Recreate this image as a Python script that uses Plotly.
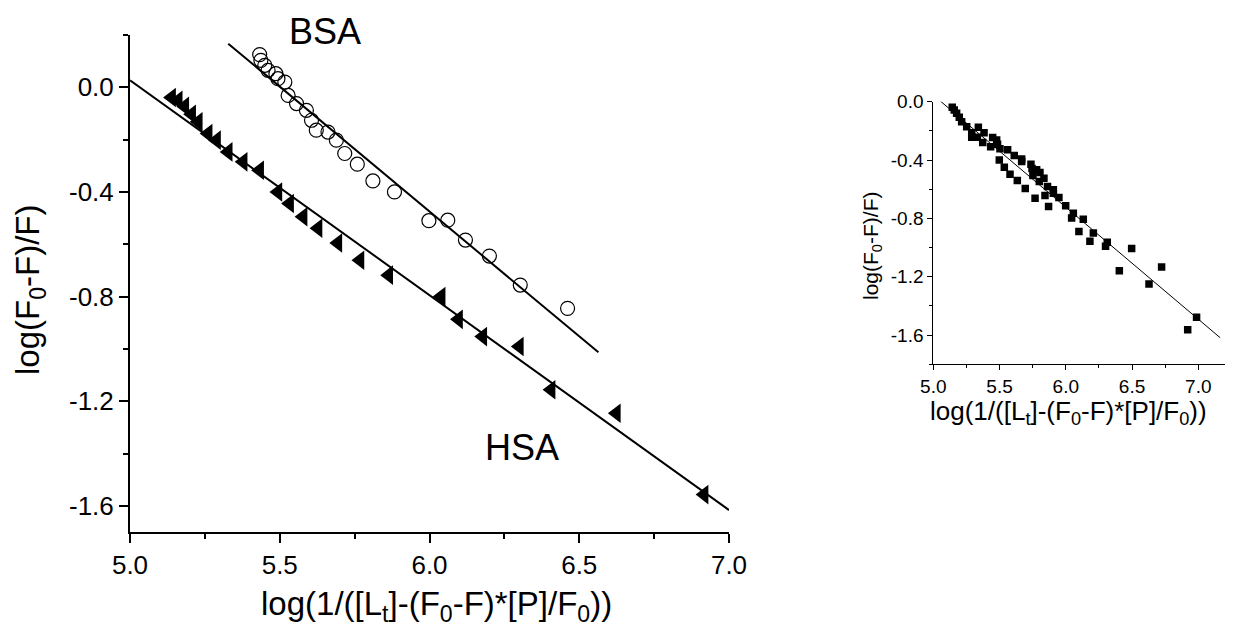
import plotly.graph_objects as go

# ---- main panel: HSA (filled triangles) and BSA (open circles) ----
hsa_x = [5.139, 5.161, 5.183, 5.206, 5.228, 5.261, 5.289, 5.328, 5.378, 5.433,
         5.494, 5.533, 5.578, 5.628, 5.694, 5.768, 5.864, 6.039, 6.097, 6.178,
         6.300, 6.406, 6.624, 6.917]
hsa_y = [-0.039, -0.050, -0.073, -0.103, -0.132, -0.177, -0.202, -0.247, -0.285, -0.317,
         -0.400, -0.444, -0.495, -0.539, -0.595, -0.661, -0.718, -0.800, -0.887, -0.953,
         -0.991, -1.156, -1.246, -1.557]

bsa_x = [5.433, 5.437, 5.450, 5.461, 5.487, 5.494, 5.517, 5.528, 5.556, 5.589,
         5.606, 5.622, 5.661, 5.689, 5.717, 5.759, 5.811, 5.883, 5.998, 6.061,
         6.120, 6.200, 6.303, 6.461]
bsa_y = [0.125, 0.103, 0.084, 0.065, 0.052, 0.033, 0.020, -0.031, -0.062, -0.088,
         -0.126, -0.164, -0.171, -0.202, -0.253, -0.294, -0.358, -0.400, -0.510, -0.508,
         -0.584, -0.645, -0.756, -0.845]

# linear fits: (intercept, slope) and x extent of each drawn line
hsa_fit = (4.135, -0.8216)
hsa_fit_x = [5.0, 7.0]
bsa_fit = (5.2535, -0.9547)
bsa_fit_x = [5.328, 6.564]

# ---- inset panel: pooled data ----
ins_x = [5.143, 5.158, 5.176, 5.196, 5.214, 5.252, 5.290, 5.290, 5.332, 5.340,
         5.373, 5.383, 5.433, 5.448, 5.478, 5.485, 5.503, 5.498, 5.536, 5.561,
         5.579, 5.611, 5.634, 5.667, 5.667, 5.694, 5.737, 5.745, 5.752, 5.768,
         5.780, 5.805, 5.800, 5.835, 5.843, 5.862, 5.870, 5.906, 5.906, 5.948,
         5.999, 6.044, 6.057, 6.099, 6.132, 6.182, 6.208, 6.300, 6.313, 6.404,
         6.497, 6.628, 6.723, 6.920, 6.987]
ins_y = [-0.038, -0.057, -0.080, -0.107, -0.137, -0.171, -0.212, -0.243, -0.243, -0.175,
         -0.280, -0.212, -0.308, -0.246, -0.262, -0.291, -0.323, -0.399, -0.449, -0.330,
         -0.497, -0.369, -0.540, -0.410, -0.392, -0.595, -0.428, -0.458, -0.506, -0.661,
         -0.467, -0.485, -0.547, -0.524, -0.643, -0.581, -0.718, -0.604, -0.627, -0.656,
         -0.713, -0.798, -0.764, -0.889, -0.805, -0.957, -0.900, -0.991, -0.964, -1.158,
         -1.007, -1.249, -1.133, -1.564, -1.477]
ins_fit = (3.885, -0.768)
ins_fit_x = [5.05, 7.165]

# tick labels
main_xticks = [5.0, 5.5, 6.0, 6.5, 7.0]
main_xtext = ["5.0", "5.5", "6.0", "6.5", "7.0"]
main_yticks = [0.0, -0.4, -0.8, -1.2, -1.6]
main_ytext = ["0.0", "-0.4", "-0.8", "-1.2", "-1.6"]
main_xminor = [5.25, 5.75, 6.25, 6.75]
main_yminor = [0.2, -0.2, -0.6, -1.0, -1.4]
ins_xminor = [5.25, 5.75, 6.25, 6.75, 7.25]
ins_yminor = [-0.2, -0.6, -1.0, -1.4, -1.8]

FONT = "Liberation Sans, Arial, sans-serif"
W, H = 1241, 637


def fit_line(fit, xs):
    a, b = fit
    return xs, [a + b * x for x in xs]


fig = go.Figure()

lx, ly = fit_line(hsa_fit, hsa_fit_x)
fig.add_trace(go.Scatter(x=lx, y=ly, mode="lines", line=dict(color="black", width=2),
                         xaxis="x", yaxis="y", showlegend=False))
lx, ly = fit_line(bsa_fit, bsa_fit_x)
fig.add_trace(go.Scatter(x=lx, y=ly, mode="lines", line=dict(color="black", width=2),
                         xaxis="x", yaxis="y", showlegend=False))
fig.add_trace(go.Scatter(x=hsa_x, y=hsa_y, mode="markers",
                         marker=dict(symbol="triangle-left", size=17, color="black"),
                         xaxis="x", yaxis="y", showlegend=False))
fig.add_trace(go.Scatter(x=bsa_x, y=bsa_y, mode="markers",
                         marker=dict(symbol="circle-open", size=14, color="black",
                                     line=dict(width=1.2, color="black")),
                         xaxis="x", yaxis="y", showlegend=False))

lx, ly = fit_line(ins_fit, ins_fit_x)
fig.add_trace(go.Scatter(x=lx, y=ly, mode="lines", line=dict(color="black", width=1),
                         xaxis="x2", yaxis="y2", showlegend=False))
fig.add_trace(go.Scatter(x=ins_x, y=ins_y, mode="markers",
                         marker=dict(symbol="square", size=7.5, color="black"),
                         xaxis="x2", yaxis="y2", showlegend=False))

axis_common = dict(showgrid=False, zeroline=False, showline=True, linecolor="black",
                   ticks="outside", tickcolor="black", color="black", mirror=False,
                   automargin=False)

fig.update_layout(
    width=W, height=H,
    margin=dict(l=0, r=0, t=0, b=0),
    paper_bgcolor="white", plot_bgcolor="white",
    font=dict(family=FONT, color="black"),
    xaxis=dict(domain=[130 / W, 729 / W], anchor="y", range=[5.0, 7.0],
               tickvals=main_xticks, ticktext=main_xtext, ticklen=9, tickwidth=2,
               linewidth=2, tickfont=dict(size=26),
               minor=dict(tickvals=main_xminor, ticklen=5, tickwidth=2, ticks="outside",
                          tickcolor="black"),
               **axis_common),
    yaxis=dict(domain=[(H - 532) / H, (H - 35) / H], anchor="x", range=[-1.7, 0.2],
               tickvals=main_yticks, ticktext=main_ytext, ticklen=9, tickwidth=2,
               linewidth=2, tickfont=dict(size=26),
               minor=dict(tickvals=main_yminor, ticklen=5, tickwidth=2, ticks="outside",
                          tickcolor="black"),
               **axis_common),
    xaxis2=dict(domain=[933.3 / W, 1224.8 / W], anchor="y2", range=[5.0, 7.2],
                tickvals=main_xticks, ticktext=main_xtext, ticklen=5, tickwidth=1,
                linewidth=1, tickfont=dict(size=19),
                minor=dict(tickvals=ins_xminor, ticklen=3, tickwidth=1, ticks="outside",
                           tickcolor="black"),
                **axis_common),
    yaxis2=dict(domain=[(H - 364.3) / H, (H - 101.7) / H], anchor="x2", range=[-1.8, 0.0],
                tickvals=main_yticks, ticktext=main_ytext, ticklen=5, tickwidth=1,
                linewidth=1, tickfont=dict(size=19),
                minor=dict(tickvals=ins_yminor, ticklen=3, tickwidth=1, ticks="outside",
                           tickcolor="black"),
                **axis_common),
    annotations=[
        dict(text="log(F<sub>0</sub>-F)/F)", x=30 / W, y=(H - 290) / H,
             xref="paper", yref="paper", textangle=-90, showarrow=False,
             font=dict(size=33, family=FONT, color="black"), xanchor="center", yanchor="middle"),
        dict(text="log(1/([L<sub>t</sub>]-(F<sub>0</sub>-F)*[P]/F<sub>0</sub>))",
             x=436 / W, y=(H - 606) / H, xref="paper", yref="paper", showarrow=False,
             font=dict(size=33, family=FONT, color="black"), xanchor="center", yanchor="middle"),
        dict(text="BSA", x=325 / W, y=(H - 32) / H, xref="paper", yref="paper",
             showarrow=False, font=dict(size=36, family=FONT, color="black"),
             xanchor="center", yanchor="middle"),
        dict(text="HSA", x=522 / W, y=(H - 447) / H, xref="paper", yref="paper",
             showarrow=False, font=dict(size=36, family=FONT, color="black"),
             xanchor="center", yanchor="middle"),
        dict(text="log(F<sub>0</sub>-F)/F)", x=872 / W, y=(H - 246) / H,
             xref="paper", yref="paper", textangle=-90, showarrow=False,
             font=dict(size=21, family=FONT, color="black"), xanchor="center", yanchor="middle"),
        dict(text="log(1/([L<sub>t</sub>]-(F<sub>0</sub>-F)*[P]/F<sub>0</sub>))",
             x=1068 / W, y=(H - 412) / H, xref="paper", yref="paper", showarrow=False,
             font=dict(size=26, family=FONT, color="black"), xanchor="center", yanchor="middle"),
    ],
)

fig.write_html("out.html")
